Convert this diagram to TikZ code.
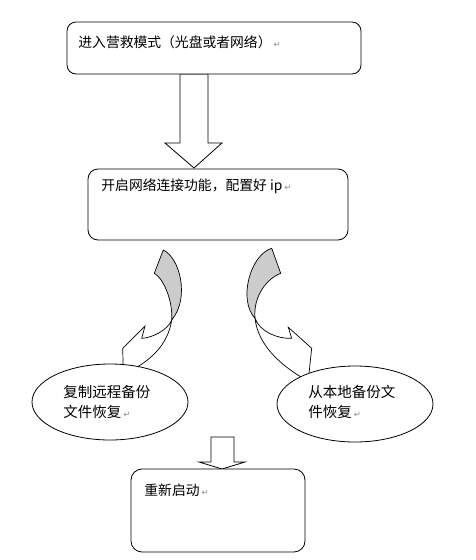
\documentclass[tikz,border=0pt]{standalone}
\usepackage{fontspec}
\setmainfont{Noto Sans CJK SC}
\newfontfamily\dvsans{DejaVu Sans}
\usetikzlibrary{shapes.geometric}
\newcommand\retmark{\hspace{2pt}{\dvsans\color{black!45}\fontsize{8.5}{8.5}\selectfont ↵}}
\begin{document}
\begin{tikzpicture}[x=1pt,y=-1pt,line width=0.8pt,
  boxstyle/.style={draw,rounded corners=9pt,fill=white,inner sep=0},
  lbl/.style={anchor=west,inner sep=0,font=\fontsize{13.8}{20}\selectfont,align=left},
  elbl/.style={lbl,font=\fontsize{14.5}{20}\selectfont},
  ell/.style={draw,ellipse,fill=white,inner sep=0,minimum width=156pt,minimum height=76pt},
  blockarrow/.style={draw,fill=white,line join=miter},
  band/.style={draw,fill=black!20,line width=0.7pt},
  body/.style={draw,fill=white,line width=0.7pt,line join=miter}]
\useasboundingbox (0,0) rectangle (475,560);

% block arrows
\draw[blockarrow] (180,74) -- (180,143) -- (165,143) -- (194,168) -- (222,143) -- (208,143) -- (208,74) -- cycle;
\draw[blockarrow] (211,437) -- (211,462) -- (199,462) -- (222,469) -- (245,462) -- (234,462) -- (234,437) -- cycle;

% left curved arrow
\draw[body] (171.7,320) .. controls (168,330) and (152,338) .. (141.7,338.3)
  -- (145,326) -- (122.7,348.3) -- (123.3,374) -- (124,374)
  .. controls (150,362) and (168,345) .. (171.7,320) -- cycle;
\draw[band] (163.3,250) .. controls (180,258) and (190,298) .. (171.7,320)
  .. controls (173,300) and (163,278) .. (154.3,273.3) -- cycle;

% right curved arrow
\draw[body] (255,318.3) .. controls (260,332) and (278,339) .. (291.7,338.3)
  -- (288.3,327.3) -- (311.7,348.3) -- (308.3,380) -- (306,380)
  .. controls (280,365) and (258,345) .. (255,318.3) -- cycle;
\draw[band] (271.7,248.3) .. controls (250,255) and (238,300) .. (255,318.3)
  .. controls (253,295) and (268,278) .. (280.7,273.3) -- cycle;

% boxes
\node[boxstyle,minimum width=294pt,minimum height=52pt] (b1) at (214,48) {};
\node[boxstyle,rounded corners=10pt,minimum width=260pt,minimum height=71pt] (b2) at (218,204.5) {};
\node[boxstyle,rounded corners=11pt,minimum width=174pt,minimum height=83pt] (b3) at (218,510.5) {};
\node[ell] (e1) at (110,402) {};
\node[ell] (e2) at (355,404) {};

% texts
\node[lbl] (t1) at (78,42) {进入营救模式（光盘或者网络）\retmark};
\node[lbl] (t2) at (101,186) {开启网络连接功能，配置好 ip\retmark};
\node[elbl] (t3) at (63,402) {复制远程备份\\文件恢复\retmark};
\node[elbl] (t4) at (308,402) {从本地备份文\\件恢复\retmark};
\node[lbl] (t5) at (144,490) {重新启动\retmark};
\end{tikzpicture}
\end{document}
